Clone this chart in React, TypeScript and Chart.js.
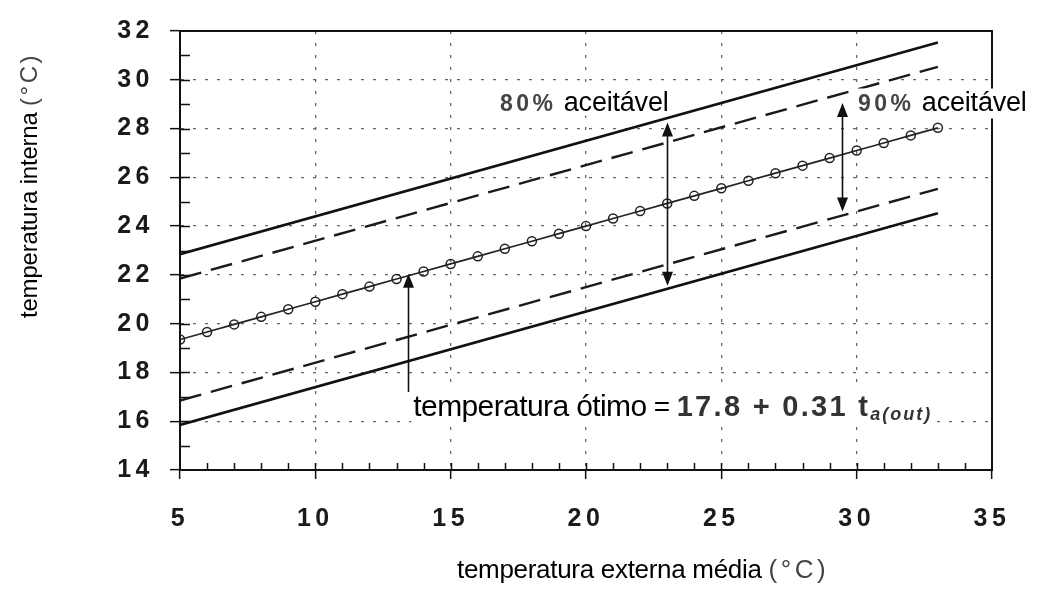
import React, { useEffect, useRef } from "react";
import { Chart, registerables } from "chart.js";

Chart.register(...registerables);

// ---- data ----
const tempExterna = [5, 6, 7, 8, 9, 10, 11, 12, 13, 14, 15, 16, 17, 18, 19, 20, 21, 22, 23, 24, 25, 26, 27, 28, 29, 30, 31, 32, 33];
const tempOtima = [19.35, 19.66, 19.97, 20.28, 20.59, 20.9, 21.21, 21.52, 21.83, 22.14, 22.45, 22.76, 23.07, 23.38, 23.69, 24.0, 24.31, 24.62, 24.93, 25.24, 25.55, 25.86, 26.17, 26.48, 26.79, 27.1, 27.41, 27.72, 28.03];
const limitesX = [5, 33];
const limite80Sup = [22.85, 31.53];
const limite80Inf = [15.85, 24.53];
const limite90Sup = [21.85, 30.53];
const limite90Inf = [16.85, 25.53];

const xTicks = [5, 10, 15, 20, 25, 30, 35];
const yTicks = [14, 16, 18, 20, 22, 24, 26, 28, 30, 32];

const xTitle = "temperatura externa média";
const yTitle = "temperatura interna";
const unitText = "(°C)";
const pct80 = "80%";
const pct90 = "90%";
const aceitavel = "aceitável";
const eqWords = "temperatura ótimo";
const eqEquals = " = ";
const eqNumbers = "17.8 + 0.31 t";
const eqSub = "a(out)";

const FAMILY = "'Liberation Sans', Arial, sans-serif";

type Run = { text: string; font: string; color: string; spacing: number; dy?: number };

function runsWidth(ctx: CanvasRenderingContext2D, runs: Run[]) {
  let w = 0;
  for (const r of runs) {
    ctx.font = r.font;
    (ctx as any).letterSpacing = r.spacing + "px";
    w += ctx.measureText(r.text).width;
  }
  return w;
}

function drawRuns(ctx: CanvasRenderingContext2D, x: number, y: number, runs: Run[], bg?: { up: number; down: number }) {
  ctx.save();
  ctx.textAlign = "left";
  ctx.textBaseline = "alphabetic";
  if (bg) {
    const w = runsWidth(ctx, runs);
    ctx.fillStyle = "#ffffff";
    ctx.fillRect(x - 2, y - bg.up, w + 2, bg.up + bg.down);
  }
  let cx = x;
  for (const r of runs) {
    ctx.font = r.font;
    (ctx as any).letterSpacing = r.spacing + "px";
    ctx.fillStyle = r.color;
    ctx.fillText(r.text, cx, y + (r.dy || 0));
    cx += ctx.measureText(r.text).width;
  }
  ctx.restore();
}

function arrowHead(ctx: CanvasRenderingContext2D, x: number, yTip: number, up: boolean) {
  const len = 14;
  const half = 5.5;
  const base = up ? yTip + len : yTip - len;
  ctx.beginPath();
  ctx.moveTo(x, yTip);
  ctx.lineTo(x - half, base);
  ctx.lineTo(x + half, base);
  ctx.closePath();
  ctx.fill();
}

const decorPlugin = {
  id: "decor",
  beforeDraw(chart: any) {
    (chart.ctx as any).letterSpacing = "4.5px";
  },
  beforeDatasetsDraw(chart: any) {
    const ctx: CanvasRenderingContext2D = chart.ctx;
    (ctx as any).letterSpacing = "0px";
    const { left, right, top, bottom } = chart.chartArea;
    const xs = chart.scales.x;
    const ys = chart.scales.y;
    ctx.save();
    ctx.setLineDash([]);
    ctx.strokeStyle = "#111";
    ctx.lineWidth = 2;
    ctx.strokeRect(left, top, right - left, bottom - top);
    ctx.lineWidth = 1.5;
    ctx.beginPath();
    for (let v = ys.min + 1; v < ys.max; v += 1) {
      const py = Math.round(ys.getPixelForValue(v)) + 0.5;
      ctx.moveTo(left, py);
      ctx.lineTo(left + 10, py);
    }
    for (let v = xs.min + 1; v < xs.max; v += 1) {
      const px = Math.round(xs.getPixelForValue(v)) + 0.5;
      ctx.moveTo(px, bottom);
      ctx.lineTo(px, bottom - 7);
    }
    ctx.stroke();
    ctx.restore();
  },
  afterDatasetsDraw(chart: any) {
    const ctx: CanvasRenderingContext2D = chart.ctx;
    const xs = chart.scales.x;
    const ys = chart.scales.y;
    const px = (v: number) => xs.getPixelForValue(v);
    const py = (v: number) => ys.getPixelForValue(v);

    // acceptability labels
    const lab = (pct: string): Run[] => [
      { text: pct, font: `bold 23px ${FAMILY}`, color: "#444", spacing: 3.5 },
      { text: " " + aceitavel, font: `27px ${FAMILY}`, color: "#000", spacing: -0.2 },
    ];
    drawRuns(ctx, px(16.82), py(28.74), lab(pct80), { up: 22, down: 5 });
    drawRuns(ctx, px(30.05), py(28.74), lab(pct90), { up: 22, down: 8 });

    // equation label
    drawRuns(
      ctx,
      px(13.62),
      py(16.22),
      [
        { text: eqWords, font: `30px ${FAMILY}`, color: "#000", spacing: -0.6 },
        { text: eqEquals, font: `28px ${FAMILY}`, color: "#000", spacing: -0.6 },
        { text: eqNumbers, font: `bold 29px ${FAMILY}`, color: "#333", spacing: 2.3 },
        { text: eqSub, font: `italic bold 18px ${FAMILY}`, color: "#333", spacing: 2, dy: 4 },
      ],
      { up: 25, down: 7 }
    );

    // arrows
    ctx.save();
    ctx.strokeStyle = "#111";
    ctx.fillStyle = "#111";
    ctx.lineWidth = 1.6;
    ctx.setLineDash([]);
    // 80% arrow (double)
    {
      const x = Math.round(px(23.0)) + 0.5;
      const y1 = py(28.25);
      const y2 = py(21.55);
      ctx.beginPath();
      ctx.moveTo(x, y1 + 8);
      ctx.lineTo(x, y2 - 8);
      ctx.stroke();
      arrowHead(ctx, x, y1, true);
      arrowHead(ctx, x, y2, false);
    }
    // 90% arrow (double)
    {
      const x = Math.round(px(29.45)) + 0.5;
      const y1 = py(29.05);
      const y2 = py(24.6);
      ctx.beginPath();
      ctx.moveTo(x, y1 + 8);
      ctx.lineTo(x, y2 - 8);
      ctx.stroke();
      arrowHead(ctx, x, y1, true);
      arrowHead(ctx, x, y2, false);
    }
    // optimum arrow (single, up)
    {
      const x = Math.round(px(13.42)) + 0.5;
      const y1 = py(22.05);
      const y2 = py(17.2);
      ctx.beginPath();
      ctx.moveTo(x, y1 + 8);
      ctx.lineTo(x, y2);
      ctx.stroke();
      arrowHead(ctx, x, y1, true);
    }
    ctx.restore();
  },
  afterDraw(chart: any) {
    const ctx: CanvasRenderingContext2D = chart.ctx;
    // x axis title
    drawRuns(ctx, 457, 578, [
      { text: xTitle + " ", font: `26px ${FAMILY}`, color: "#000", spacing: -0.3 },
      { text: unitText, font: `26px ${FAMILY}`, color: "#444", spacing: 3.5 },
    ]);
    // y axis title (rotated)
    ctx.save();
    ctx.translate(37, 318);
    ctx.rotate(-Math.PI / 2);
    drawRuns(ctx, 0, 0, [
      { text: yTitle + " ", font: `24px ${FAMILY}`, color: "#000", spacing: -0.2 },
      { text: unitText, font: `24px ${FAMILY}`, color: "#444", spacing: 2.5 },
    ]);
    ctx.restore();
  },
};

export default function App() {
  const canvasRef = useRef<HTMLCanvasElement | null>(null);

  useEffect(() => {
    document.body.style.margin = "0";
    const canvas = canvasRef.current;
    if (!canvas) return;

    const toPts = (xsArr: number[], ysArr: number[]) => xsArr.map((x, i) => ({ x, y: ysArr[i] }));

    const solid = { borderColor: "#111", borderWidth: 2.6, pointRadius: 0, fill: false, tension: 0 };
    const dashed = { borderColor: "#1a1a1a", borderWidth: 2.4, borderDash: [22, 10], pointRadius: 0, fill: false, tension: 0 };

    const chart = new Chart(canvas, {
      type: "line",
      data: {
        datasets: [
          { label: "80% aceitável (superior)", data: toPts(limitesX, limite80Sup), ...solid },
          { label: "80% aceitável (inferior)", data: toPts(limitesX, limite80Inf), ...solid },
          { label: "90% aceitável (superior)", data: toPts(limitesX, limite90Sup), ...dashed },
          { label: "90% aceitável (inferior)", data: toPts(limitesX, limite90Inf), ...dashed },
          {
            label: "temperatura ótimo",
            data: toPts(tempExterna, tempOtima),
            borderColor: "#222",
            borderWidth: 1.7,
            pointRadius: 4.5,
            pointBorderWidth: 1.5,
            pointBorderColor: "#222",
            pointBackgroundColor: "rgba(255,255,255,0)",
            fill: false,
            tension: 0,
          },
        ],
      } as any,
      options: {
        animation: false,
        responsive: false,
        maintainAspectRatio: false,
        layout: { padding: { left: 0, top: 28, right: 46, bottom: 0 } },
        plugins: { legend: { display: false }, tooltip: { enabled: false }, title: { display: false } },
        scales: {
          x: {
            type: "linear",
            min: 5,
            max: 35,
            afterBuildTicks: (s: any) => {
              s.ticks = xTicks.map((v) => ({ value: v }));
            },
            afterFit: (s: any) => {
              s.height = 119;
            },
            ticks: {
              autoSkip: false,
              maxRotation: 0,
              padding: 25,
              color: "#1a1a1a",
              font: { family: FAMILY, size: 25, weight: "bold" },
            },
            grid: {
              color: "#666",
              lineWidth: 1.3,
              tickLength: 9,
              tickColor: "#111",
              tickWidth: 1.5,
            },
            border: { display: true, color: "#111", width: 2, dash: [3, 9] },
          },
          y: {
            type: "linear",
            min: 14,
            max: 32,
            afterBuildTicks: (s: any) => {
              s.ticks = yTicks.map((v) => ({ value: v }));
            },
            afterFit: (s: any) => {
              s.width = 180;
            },
            ticks: {
              autoSkip: false,
              padding: 16,
              color: "#1a1a1a",
              font: { family: FAMILY, size: 25, weight: "bold" },
            },
            grid: {
              color: "#666",
              lineWidth: 1.3,
              tickLength: 10,
              tickColor: "#111",
              tickWidth: 1.5,
            },
            border: { display: true, color: "#111", width: 2, dash: [3, 9] },
          },
        },
      } as any,
      plugins: [decorPlugin],
    });

    return () => {
      chart.destroy();
    };
  }, []);

  return (
    <div style={{ position: "absolute", left: 0, top: 0, width: 1038, height: 589, background: "#fff" }}>
      <canvas ref={canvasRef} width={1038} height={589} style={{ width: 1038, height: 589, display: "block" }} />
    </div>
  );
}
